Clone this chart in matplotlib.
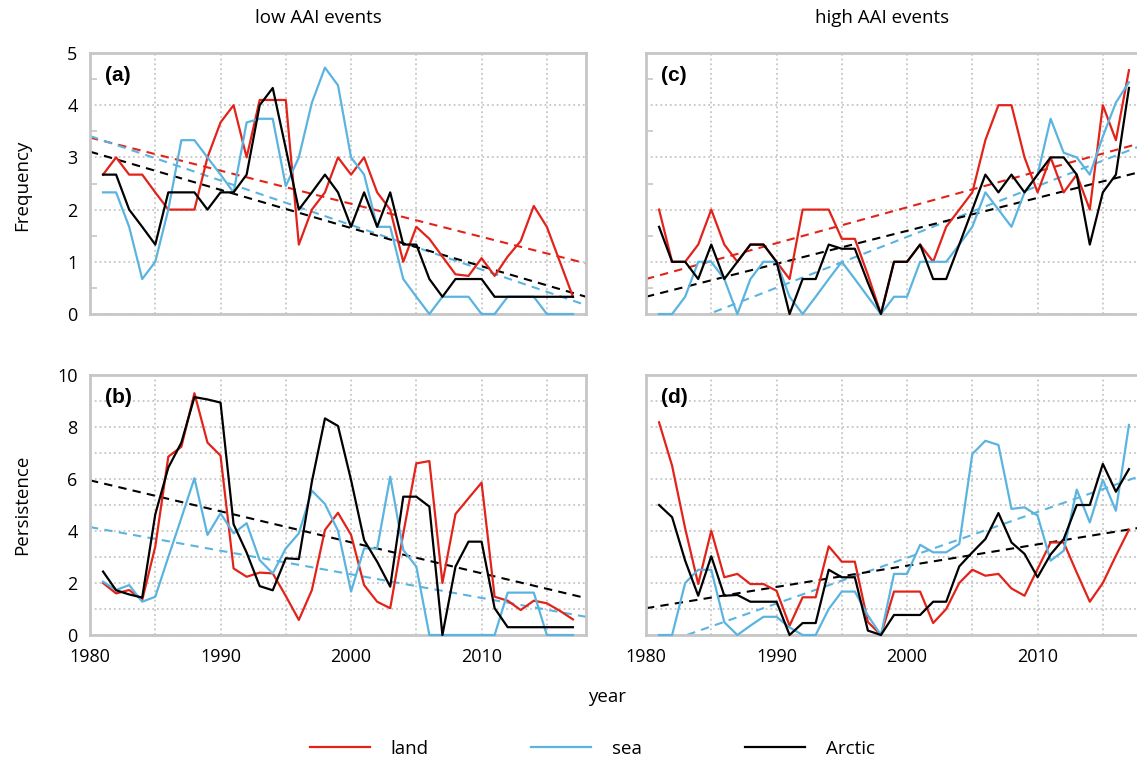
import matplotlib
matplotlib.use('Agg')
import matplotlib.pyplot as plt
from matplotlib.ticker import MultipleLocator
from matplotlib.lines import Line2D
import numpy as np

plt.rcParams['font.family'] = ['Open Sans', 'DejaVu Sans']

years = np.arange(1981, 2018)

# (a) frequency, low AAI events
land_a = [2.67, 3.0, 2.67, 2.67, 2.33, 2.0, 2.0, 2.0, 3.0, 3.67,
          4.0, 3.0, 4.1, 4.1, 4.1, 1.33, 2.0, 2.33, 3.0, 2.67,
          3.0, 2.33, 2.0, 1.0, 1.67, 1.44, 1.1, 0.76, 0.73, 1.07,
          0.73, 1.1, 1.4, 2.07, 1.67, 1.0, 0.33]
sea_a = [2.33, 2.33, 1.67, 0.67, 1.0, 2.0, 3.33, 3.33, 3.0, 2.67,
         2.33, 3.67, 3.74, 3.74, 2.45, 3.0, 4.05, 4.72, 4.38, 3.0,
         2.67, 1.67, 1.67, 0.67, 0.33, 0.0, 0.33, 0.33, 0.33, 0.0,
         0.0, 0.33, 0.33, 0.33, 0.0, 0.0, 0.0]
arctic_a = [2.67, 2.67, 2.0, 1.67, 1.33, 2.33, 2.33, 2.33, 2.0, 2.33,
            2.33, 2.67, 4.0, 4.33, 3.17, 2.0, 2.33, 2.67, 2.33, 1.67,
            2.33, 1.67, 2.33, 1.33, 1.33, 0.67, 0.33, 0.67, 0.67, 0.67,
            0.33, 0.33, 0.33, 0.33, 0.33, 0.33, 0.33]

# (c) frequency, high AAI events
land_c = [2.0, 1.0, 1.0, 1.33, 2.0, 1.33, 1.0, 1.33, 1.33, 1.0,
          0.67, 2.0, 2.0, 2.0, 1.44, 1.44, 0.75, 0.0, 1.0, 1.0,
          1.33, 1.0, 1.67, 2.0, 2.33, 3.33, 4.0, 4.0, 3.0, 2.33,
          3.0, 2.33, 2.67, 2.0, 4.0, 3.33, 4.67]
sea_c = [0.0, 0.0, 0.33, 1.0, 1.0, 0.67, 0.0, 0.67, 1.0, 1.0,
         0.33, 0.0, 0.33, 0.67, 1.0, 0.67, 0.33, 0.0, 0.33, 0.33,
         1.0, 1.0, 1.0, 1.33, 1.67, 2.33, 2.0, 1.67, 2.33, 2.67,
         3.74, 3.09, 3.0, 2.67, 3.4, 4.05, 4.44]
arctic_c = [1.67, 1.0, 1.0, 0.67, 1.33, 0.67, 1.0, 1.33, 1.33, 1.0,
            0.0, 0.67, 0.67, 1.33, 1.25, 1.25, 0.6, 0.0, 1.0, 1.0,
            1.33, 0.67, 0.67, 1.33, 2.0, 2.67, 2.33, 2.67, 2.33, 2.67,
            3.0, 3.0, 2.67, 1.33, 2.33, 2.67, 4.33]

# (b) persistence, low AAI events
land_b = [2.0, 1.6, 1.73, 1.35, 3.4, 6.86, 7.24, 9.3, 7.4, 6.9,
          2.56, 2.24, 2.4, 2.37, 1.5, 0.58, 1.73, 4.04, 4.7, 3.85,
          1.92, 1.28, 1.03, 3.9, 6.6, 6.69, 2.0, 4.65, 5.26, 5.86,
          1.47, 1.32, 0.96, 1.32, 1.22, 0.93, 0.6]
sea_b = [2.05, 1.73, 1.92, 1.28, 1.47, 3.0, 4.5, 6.03, 3.85, 4.68,
         3.91, 4.3, 2.88, 2.37, 3.33, 3.91, 5.55, 5.04, 4.01, 1.67,
         3.33, 3.33, 6.09, 3.27, 2.63, 0.0, 0.0, 0.0, 0.0, 0.0,
         0.0, 1.63, 1.63, 1.63, 0.0, 0.0, 0.0]
arctic_b = [2.44, 1.72, 1.56, 1.44, 4.64, 6.44, 7.4, 9.15, 9.06, 8.94,
            4.26, 3.17, 1.88, 1.72, 2.95, 2.92, 5.9, 8.33, 8.04, 5.96,
            3.65, 2.82, 1.86, 5.32, 5.32, 4.94, 0.0, 2.63, 3.59, 3.59,
            1.03, 0.3, 0.3, 0.3, 0.3, 0.3, 0.3]

# (d) persistence, high AAI events
land_d = [8.18, 6.51, 4.1, 1.96, 4.01, 2.22, 2.35, 1.96, 1.96, 1.7,
          0.36, 1.45, 1.45, 3.41, 2.82, 2.82, 0.5, 0.0, 1.67, 1.67,
          1.67, 0.46, 1.0, 2.0, 2.51, 2.28, 2.35, 1.79, 1.51, 2.54,
          3.56, 3.56, 2.4, 1.28, 2.0, 3.05, 4.05]
sea_d = [0.0, 0.0, 2.0, 2.51, 2.51, 0.49, 0.0, 0.36, 0.7, 0.7,
         0.29, 0.0, 0.0, 1.0, 1.67, 1.67, 0.75, 0.0, 2.35, 2.35,
         3.47, 3.18, 3.18, 3.5, 6.96, 7.47, 7.31, 4.85, 4.91, 4.59,
         2.86, 3.24, 5.59, 4.33, 5.97, 4.78, 8.08]
arctic_d = [5.0, 4.53, 2.86, 1.51, 3.03, 1.51, 1.54, 1.28, 1.28, 1.28,
            0.0, 0.46, 0.46, 2.51, 2.22, 2.22, 0.17, 0.0, 0.77, 0.77,
            0.77, 1.28, 1.28, 2.64, 3.18, 3.69, 4.69, 3.56, 3.12, 2.22,
            3.1, 3.69, 5.0, 5.0, 6.58, 5.51, 6.38]

# linear trend values at 1980 and 2018
trend_years = [1980, 2018]
trend_a = {'land': [3.38, 0.97], 'sea': [3.41, 0.17], 'arctic': [3.11, 0.33]}
trend_c = {'land': [0.67, 3.28], 'sea': [-0.47, 3.23], 'arctic': [0.33, 2.73]}
trend_b = {'sea': [4.15, 0.70], 'arctic': [5.95, 1.42]}
trend_d = {'sea': [-0.55, 6.14], 'arctic': [1.03, 4.14]}

colors = {'land': '#e2231a', 'sea': '#5bb4e0', 'arctic': '#000000'}
grey = '#c6c6c6'

W, H = 1137, 762
fig = plt.figure(figsize=(W / 100, H / 100), dpi=100)


def box(l, t, r, b):
    return [l / W, 1 - b / H, (r - l) / W, (b - t) / H]


ax_a = fig.add_axes(box(90, 53, 586, 314))
ax_c = fig.add_axes(box(646, 53, 1142, 314))
ax_b = fig.add_axes(box(90, 375, 586, 635))
ax_d = fig.add_axes(box(646, 375, 1142, 635))

panels = [
    (ax_a, land_a, sea_a, arctic_a, trend_a, '(a)', 5),
    (ax_c, land_c, sea_c, arctic_c, trend_c, '(c)', 5),
    (ax_b, land_b, sea_b, arctic_b, trend_b, '(b)', 10),
    (ax_d, land_d, sea_d, arctic_d, trend_d, '(d)', 10),
]

for ax, land, sea, arctic, trend, lab, ymax in panels:
    for key in ['land', 'sea', 'arctic']:
        if key in trend:
            ax.plot(trend_years, trend[key], color=colors[key], lw=1.5,
                    ls=(0, (4, 3)), zorder=2)
    ax.plot(years, land, color=colors['land'], lw=1.6, zorder=3, clip_on=False)
    ax.plot(years, sea, color=colors['sea'], lw=1.6, zorder=3, clip_on=False)
    ax.plot(years, arctic, color=colors['arctic'], lw=1.6, zorder=4, clip_on=False)

    ax.set_xlim(1980, 2018)
    ax.set_ylim(0, ymax)
    ax.xaxis.set_major_locator(MultipleLocator(10))
    ax.xaxis.set_minor_locator(MultipleLocator(5))
    if ymax == 5:
        ax.yaxis.set_major_locator(MultipleLocator(1))
        ax.yaxis.set_minor_locator(MultipleLocator(0.5))
        ax.grid(True, which='major', axis='y', color=grey, ls=':', lw=1.3)
        ax.tick_params(axis='y', which='minor', direction='in', length=5,
                       color=grey, width=1.2)
    else:
        ax.yaxis.set_major_locator(MultipleLocator(2))
        ax.yaxis.set_minor_locator(MultipleLocator(1))
        ax.grid(True, which='both', axis='y', color=grey, ls=':', lw=1.3)
        ax.tick_params(axis='y', which='minor', length=0)
    ax.grid(True, which='both', axis='x', color=grey, ls=':', lw=1.3)
    ax.set_axisbelow(True)
    ax.tick_params(which='major', length=0, labelsize=13, pad=9)
    ax.tick_params(axis='x', which='minor', length=0)
    for s in ax.spines.values():
        s.set_color(grey)
        s.set_linewidth(2)
    ax.text(0.03, 0.915, lab, transform=ax.transAxes, fontsize=15,
            fontweight='bold', family='Liberation Sans', va='center', ha='left')

ax_a.tick_params(axis='x', labelbottom=False)
ax_c.tick_params(axis='x', labelbottom=False)
ax_c.tick_params(axis='y', labelleft=False)
ax_d.tick_params(axis='y', labelleft=False)

fig.text(318 / W, 1 - 18 / H, 'low AAI events', ha='center', va='center', fontsize=13.5)
fig.text(882 / W, 1 - 18 / H, 'high AAI events', ha='center', va='center', fontsize=13.5)
fig.text(22 / W, 1 - 185 / H, 'Frequency', rotation=90, ha='center', va='center', fontsize=13.5)
fig.text(22 / W, 1 - 505 / H, 'Persistence', rotation=90, ha='center', va='center', fontsize=13.5)
fig.text(607 / W, 1 - 697 / H, 'year', ha='center', va='center', fontsize=13.5)

handles = [Line2D([], [], color=colors['land'], lw=1.6),
           Line2D([], [], color=colors['sea'], lw=1.6),
           Line2D([], [], color=colors['arctic'], lw=1.6)]
fig.legend(handles, ['land', 'sea', 'Arctic'], loc='center', ncol=3,
           bbox_to_anchor=(592 / W, 1 - 749 / H), frameon=False, fontsize=13.5,
           handlelength=3.2, handletextpad=1.1, columnspacing=5.5)

fig.savefig('out.png', dpi=100)
